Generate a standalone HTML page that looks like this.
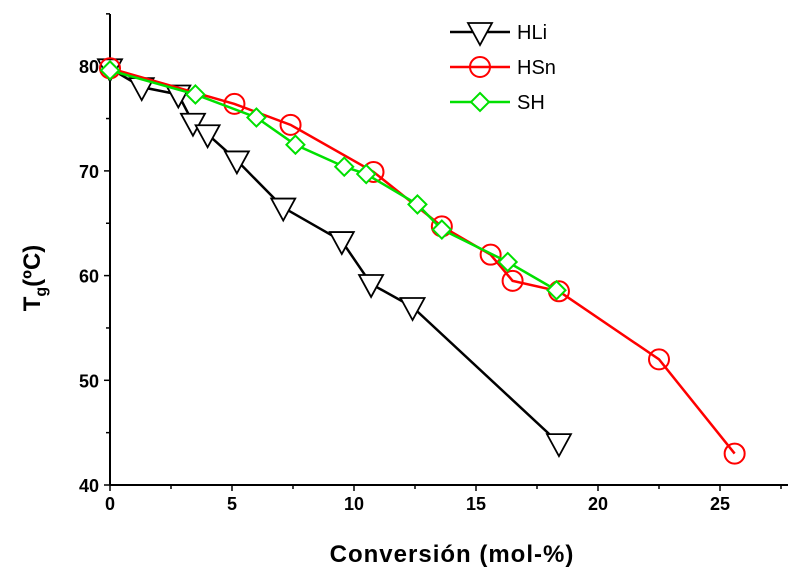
<!DOCTYPE html>
<html><head><meta charset="utf-8"><style>
html,body{margin:0;padding:0;background:#fff;}
svg{display:block;font-family:"Liberation Sans",Arial,sans-serif;}
</style></head><body>
<svg id="chart" width="795" height="576" viewBox="0 0 795 576"></svg>
<script>
const xTicks=[0,5,10,15,20,25];
const yTicks=[40,50,60,70,80];
const hliX=[0,1.3,2.8,3.4,4,5.2,7.1,9.5,10.7,12.4,18.4];
const hliY=[79.8,78,77.3,74.6,73.5,71,66.5,63.3,59.2,57,44];
const hsnX=[0,5.1,7.4,10.8,13.6,15.6,16.5,18.4,22.5,25.6];
const hsnY=[79.8,76.4,74.4,69.9,64.7,62,59.5,58.5,52,43];
const shX=[0,3.5,6,7.6,9.6,10.5,12.6,13.6,16.3,18.3];
const shY=[79.6,77.3,75.1,72.5,70.4,69.7,66.8,64.4,61.3,58.6];
const seriesNames=["HLi","HSn","SH"];

const NS="http://www.w3.org/2000/svg";
const svg=document.getElementById('chart');
const X=v=>110+v*24.4;
const Y=v=>485-(v-40)*10.47;
function mk(t,a,p){const e=document.createElementNS(NS,t);for(const k in a)e.setAttribute(k,a[k]);(p||svg).appendChild(e);return e;}

let ax=mk('line',{x1:110,y1:485,x2:788,y2:485,stroke:'#000','stroke-width':2});


let ay=mk('line',{x1:110,y1:14,x2:110,y2:485,stroke:'#000','stroke-width':2});


for(let v=0;v<=27.5;v+=2.5){const maj=v%5===0;mk('line',{x1:X(v),y1:485,x2:X(v),y2:485+(maj?6:4),stroke:'#000','stroke-width':1.5});}
xTicks.forEach(v=>{const t=mk('text',{x:X(v),y:510,'text-anchor':'middle','font-size':18,'font-weight':'bold'});t.textContent=v;

});
for(let v=40;v<=85;v+=5){const maj=v%10===0;mk('line',{x1:110-(maj?6:4),y1:Y(v),x2:110,y2:Y(v),stroke:'#000','stroke-width':1.5});}
yTicks.forEach(v=>{const t=mk('text',{x:99,y:Y(v)+7,'text-anchor':'end','font-size':18,'font-weight':'bold'});t.textContent=v;

});
let xt=mk('text',{x:452,y:562,'text-anchor':'middle','font-size':24,'font-weight':'bold','letter-spacing':1});xt.textContent='Conversión (mol-%)';


let yt=mk('text',{transform:'translate(40,278) rotate(-90)','text-anchor':'middle','font-size':24,'font-weight':'bold'});
yt.innerHTML='T<tspan font-size="16" dy="6">g</tspan><tspan dy="-6">(ºC)</tspan>';



function marker(kind,cx,cy,col,g){
 if(kind==='tri') return mk('polygon',{points:`${cx-12},${cy-9} ${cx+12},${cy-9} ${cx},${cy+13}`,fill:'#fff',stroke:col,'stroke-width':1.8},g);
 if(kind==='circ') return mk('circle',{cx,cy,r:10,fill:'none',stroke:col,'stroke-width':2},g);
 return mk('polygon',{points:`${cx},${cy-9} ${cx+9},${cy} ${cx},${cy+9} ${cx-9},${cy}`,fill:'#fff',stroke:col,'stroke-width':2},g);
}
function series(xs,ys,col,kind,name){
 const g=mk('g',{});
 
 
 const l=mk('polyline',{points:xs.map((x,i)=>X(x)+','+Y(ys[i])).join(' '),fill:'none',stroke:col,'stroke-width':2.5},g);
 
 
 xs.forEach((x,i)=>{const m=marker(kind,X(x),Y(ys[i]),col,g);
 
 });
}
series(hliX,hliY,'#000','tri','series-hli');
series(hsnX,hsnY,'#f00','circ','series-hsn');
series(shX,shY,'#00e000','dia','series-sh');

const lg=[['#000','tri'],['#f00','circ'],['#00e000','dia']];
lg.forEach((d,i)=>{const y=32+i*35;const g=mk('g',{});
 
 
 mk('line',{x1:450,y1:y,x2:510,y2:y,stroke:d[0],'stroke-width':2.5},g);
 marker(d[1],480,y,d[0],g);
 const t=mk('text',{x:517,y:y+7,'font-size':20},g);t.textContent=seriesNames[i];});
</script>
</body></html>
